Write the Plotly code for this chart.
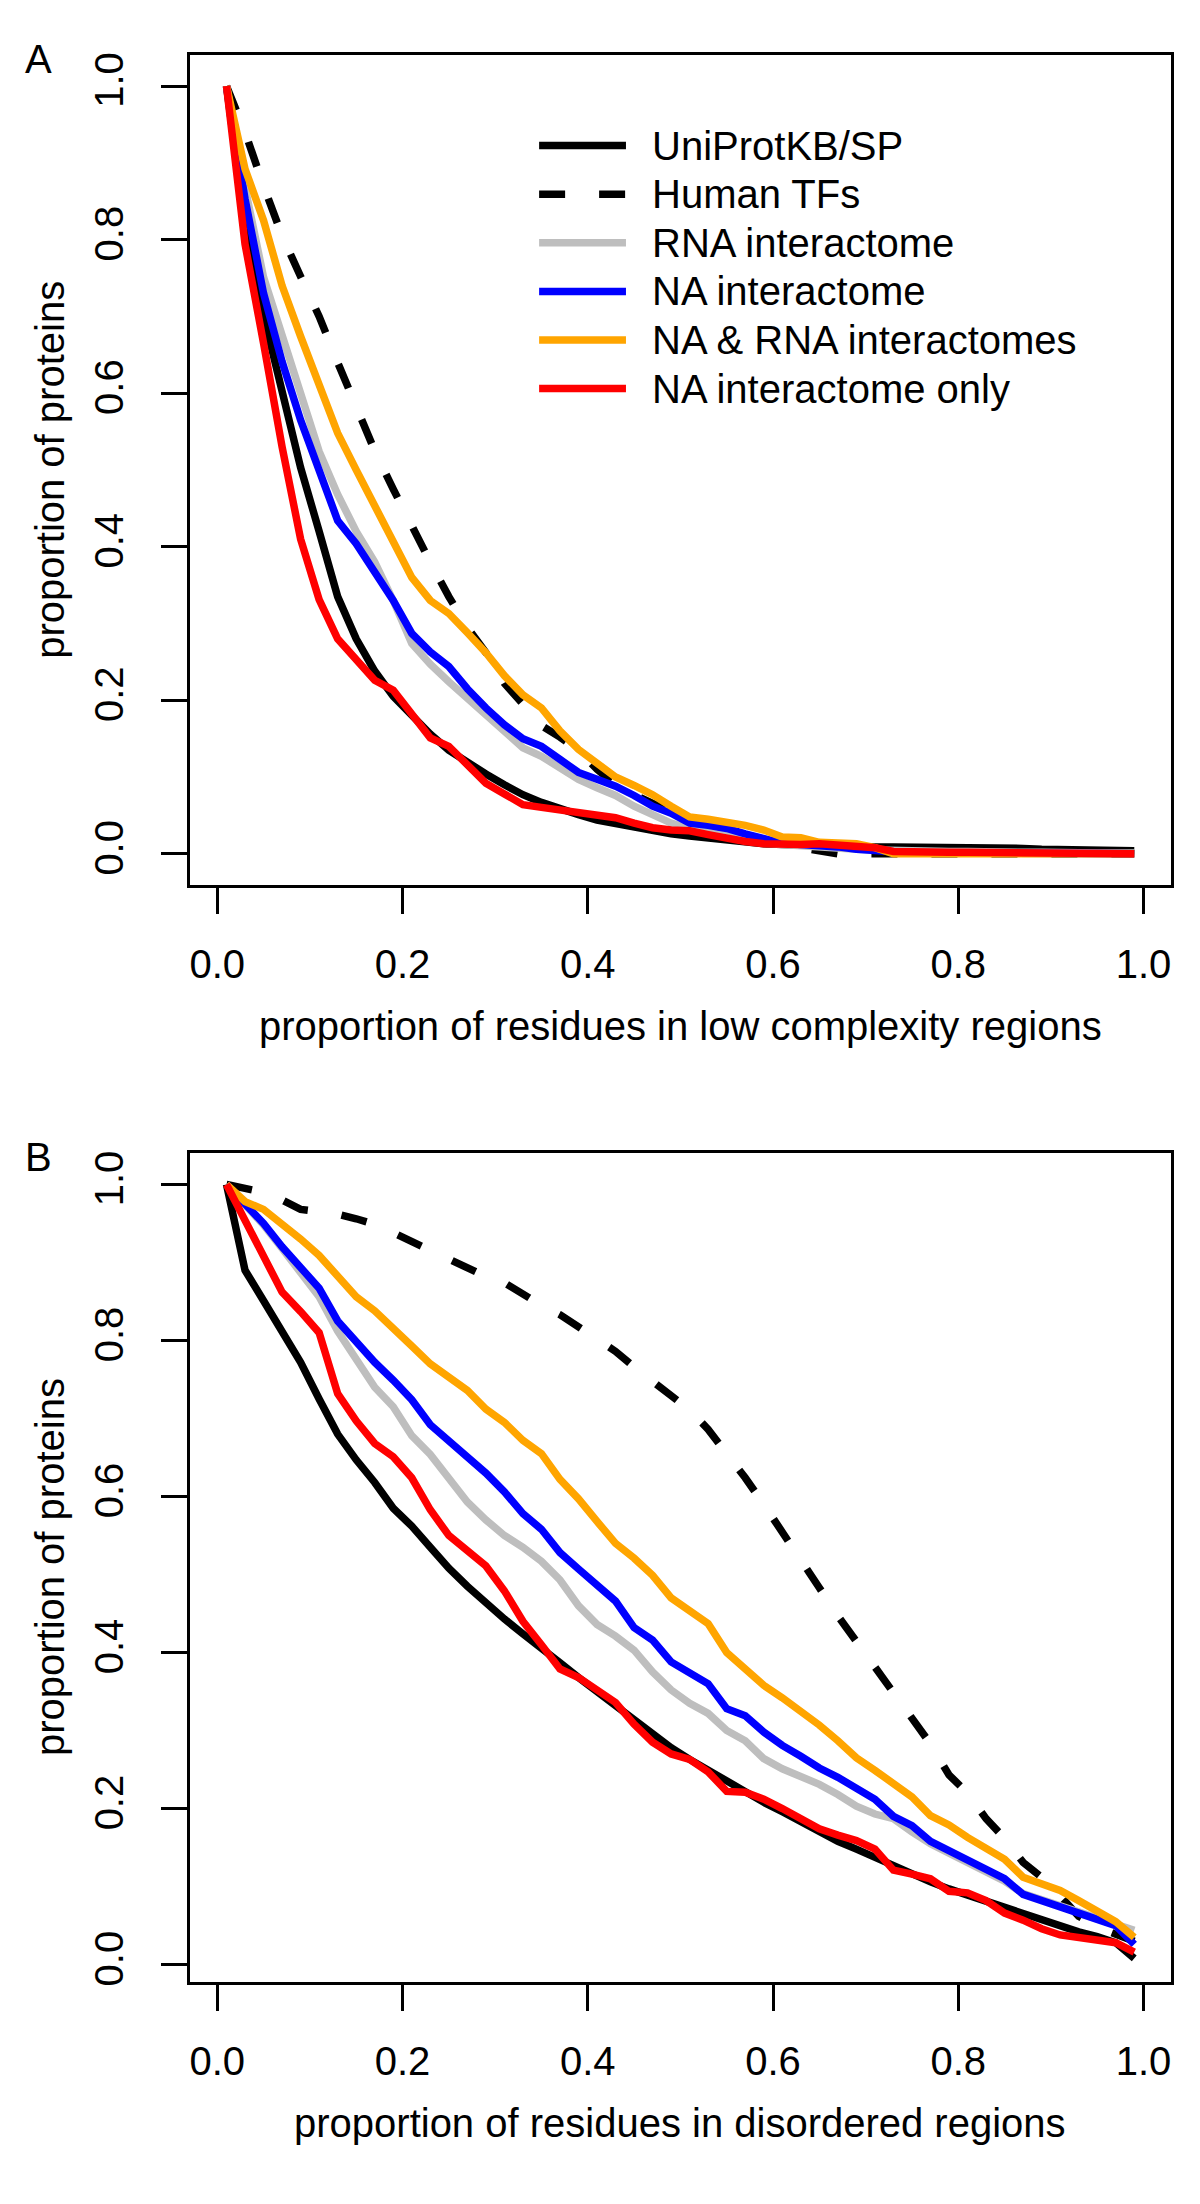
import plotly.graph_objects as go

# ---------------- data ----------------
x_bins = [0.01, 0.03, 0.05, 0.07, 0.09, 0.11, 0.13, 0.15, 0.17, 0.19,
          0.21, 0.23, 0.25, 0.27, 0.29, 0.31, 0.33, 0.35, 0.37, 0.39,
          0.41, 0.43, 0.45, 0.47, 0.49, 0.51, 0.53, 0.55, 0.57, 0.59,
          0.61, 0.63, 0.65, 0.67, 0.69, 0.71, 0.73, 0.75, 0.77, 0.79,
          0.81, 0.83, 0.85, 0.87, 0.89, 0.91, 0.93, 0.95, 0.97, 0.99]

series_names = ["UniProtKB/SP", "Human TFs", "RNA interactome",
                "NA interactome", "NA & RNA interactomes", "NA interactome only"]
series_colors = ["#000000", "#000000", "#BEBEBE", "#0000FF", "#FFA500", "#FF0000"]
series_dash = ["solid", "26px,34px", "solid", "solid", "solid", "solid"]

# Panel A: low complexity regions
lc_uniprot = [1.0, 0.82, 0.702, 0.604, 0.503, 0.42, 0.335, 0.28, 0.238, 0.205,
              0.18, 0.156, 0.135, 0.119, 0.104, 0.09, 0.077, 0.067, 0.058, 0.051,
              0.044, 0.039, 0.034, 0.030, 0.026, 0.023, 0.020, 0.017, 0.015, 0.013,
              0.012, 0.011, 0.011, 0.010, 0.010, 0.009, 0.009, 0.009, 0.008, 0.008,
              0.008, 0.007, 0.007, 0.007, 0.006, 0.006, 0.006, 0.005, 0.005, 0.004]
lc_tfs = [1.0, 0.94, 0.87, 0.805, 0.752, 0.70, 0.64, 0.58, 0.525, 0.475,
          0.425, 0.38, 0.335, 0.295, 0.262, 0.222, 0.195, 0.167, 0.152, 0.135,
          0.11, 0.09, 0.077, 0.066, 0.055, 0.043, 0.037, 0.030, 0.024, 0.018,
          0.012, 0.008, 0.003, 0.0, 0.0, 0.0, 0.0, 0.0, 0.0, 0.0,
          0.0, 0.0, 0.0, 0.0, 0.0, 0.0, 0.0, 0.0, 0.0, 0.0]
lc_rna = [1.0, 0.868, 0.751, 0.676, 0.599, 0.524, 0.468, 0.42, 0.38, 0.33,
          0.274, 0.247, 0.224, 0.203, 0.182, 0.158, 0.138, 0.127, 0.112, 0.097,
          0.086, 0.076, 0.062, 0.050, 0.040, 0.033, 0.028, 0.024, 0.018, 0.014,
          0.012, 0.010, 0.008, 0.007, 0.006, 0.005, 0.004, 0.004, 0.003, 0.003,
          0.003, 0.002, 0.002, 0.002, 0.002, 0.001, 0.001, 0.001, 0.001, 0.001]
lc_na = [1.0, 0.853, 0.730, 0.641, 0.565, 0.50, 0.434, 0.404, 0.367, 0.33,
         0.287, 0.263, 0.244, 0.215, 0.19, 0.168, 0.150, 0.140, 0.123, 0.106,
         0.097, 0.088, 0.076, 0.062, 0.053, 0.040, 0.037, 0.033, 0.026, 0.021,
         0.014, 0.012, 0.011, 0.009, 0.006, 0.004, 0.002, 0.001, 0.001, 0.001,
         0.001, 0.001, 0.001, 0.0, 0.0, 0.0, 0.0, 0.0, 0.0, 0.0]
lc_both = [1.0, 0.892, 0.825, 0.74, 0.674, 0.612, 0.548, 0.50, 0.455, 0.41,
           0.36, 0.33, 0.313, 0.288, 0.262, 0.232, 0.207, 0.19, 0.16, 0.136,
           0.118, 0.10, 0.089, 0.077, 0.062, 0.048, 0.045, 0.042, 0.037, 0.031,
           0.022, 0.021, 0.015, 0.014, 0.013, 0.008, 0.0, 0.0, 0.0, 0.0,
           0.0, 0.0, 0.0, 0.0, 0.0, 0.0, 0.0, 0.0, 0.0, 0.0]
lc_only = [1.0, 0.794, 0.665, 0.53, 0.41, 0.331, 0.28, 0.254, 0.226, 0.213,
           0.1835, 0.151, 0.140, 0.116, 0.092, 0.078, 0.064, 0.0605, 0.057, 0.052,
           0.05, 0.047, 0.040, 0.034, 0.031, 0.030, 0.025, 0.020, 0.016, 0.013,
           0.012, 0.012, 0.013, 0.012, 0.010, 0.008, 0.003, 0.002, 0.002, 0.002,
           0.002, 0.002, 0.001, 0.001, 0.001, 0.0, 0.0, 0.0, 0.0, 0.0]

# Panel B: disordered regions
dis_uniprot = [1.0, 0.89, 0.851, 0.812, 0.772, 0.725, 0.68, 0.647, 0.618, 0.585,
               0.562, 0.535, 0.508, 0.485, 0.463, 0.443, 0.424, 0.404, 0.387, 0.368,
               0.350, 0.331, 0.314, 0.296, 0.278, 0.263, 0.249, 0.235, 0.222, 0.208,
               0.196, 0.183, 0.170, 0.158, 0.148, 0.137, 0.127, 0.116, 0.106, 0.097,
               0.089, 0.081, 0.072, 0.064, 0.057, 0.049, 0.042, 0.036, 0.028, 0.008]
dis_tfs = [1.0, 0.996, 0.99, 0.98, 0.968, 0.965, 0.962, 0.956, 0.949, 0.938,
           0.927, 0.915, 0.904, 0.893, 0.882, 0.874, 0.859, 0.845, 0.833, 0.818,
           0.801, 0.786, 0.766, 0.748, 0.731, 0.711, 0.686, 0.656, 0.624, 0.590,
           0.553, 0.52, 0.483, 0.447, 0.414, 0.383, 0.352, 0.318, 0.283, 0.243,
           0.220, 0.187, 0.162, 0.131, 0.112, 0.088, 0.062, 0.048, 0.04, 0.03]
dis_rna = [1.0, 0.974, 0.948, 0.918, 0.888, 0.856, 0.812, 0.776, 0.74, 0.715,
           0.678, 0.654, 0.624, 0.593, 0.57, 0.55, 0.535, 0.517, 0.493, 0.46,
           0.436, 0.421, 0.403, 0.375, 0.352, 0.335, 0.322, 0.300, 0.287, 0.264,
           0.251, 0.241, 0.231, 0.218, 0.203, 0.193, 0.187, 0.17, 0.155, 0.143,
           0.131, 0.12, 0.107, 0.091, 0.083, 0.074, 0.067, 0.059, 0.052, 0.044]
dis_na = [1.0, 0.975, 0.95, 0.92, 0.893, 0.867, 0.825, 0.797, 0.772, 0.749,
          0.724, 0.692, 0.672, 0.652, 0.63, 0.606, 0.578, 0.558, 0.528, 0.507,
          0.487, 0.466, 0.432, 0.416, 0.388, 0.375, 0.36, 0.328, 0.319, 0.298,
          0.281, 0.267, 0.252, 0.24, 0.225, 0.212, 0.19, 0.178, 0.158, 0.146,
          0.134, 0.122, 0.11, 0.09, 0.082, 0.074, 0.064, 0.057, 0.05, 0.026]
dis_both = [1.0, 0.978, 0.968, 0.95, 0.93, 0.909, 0.883, 0.856, 0.838, 0.817,
            0.793, 0.77, 0.754, 0.736, 0.712, 0.695, 0.672, 0.655, 0.622, 0.597,
            0.568, 0.54, 0.521, 0.499, 0.47, 0.452, 0.437, 0.40, 0.378, 0.358,
            0.342, 0.325, 0.307, 0.287, 0.265, 0.249, 0.232, 0.215, 0.191, 0.179,
            0.163, 0.148, 0.135, 0.112, 0.104, 0.095, 0.082, 0.068, 0.055, 0.035]
dis_only = [1.0, 0.955, 0.91, 0.862, 0.837, 0.81, 0.732, 0.697, 0.668, 0.651,
            0.624, 0.583, 0.55, 0.530, 0.511, 0.479, 0.440, 0.410, 0.379, 0.368,
            0.353, 0.336, 0.308, 0.285, 0.270, 0.263, 0.247, 0.222, 0.221, 0.212,
            0.200, 0.187, 0.174, 0.166, 0.159, 0.148, 0.121, 0.116, 0.110, 0.094,
            0.092, 0.082, 0.066, 0.057, 0.046, 0.038, 0.035, 0.032, 0.028, 0.016]

panel_a = [lc_uniprot, lc_tfs, lc_rna, lc_na, lc_both, lc_only]
panel_b = [dis_uniprot, dis_tfs, dis_rna, dis_na, dis_both, dis_only]

tick_vals = [0.0, 0.2, 0.4, 0.6, 0.8, 1.0]
tick_text = ["0.0", "0.2", "0.4", "0.6", "0.8", "1.0"]
panel_letters = ["A", "B"]
x_titles = ["proportion of residues in low complexity regions",
            "proportion of residues in disordered regions"]
y_title = "proportion of proteins"

# ---------------- figure ----------------
W, H = 1200, 2204
FONT = "Liberation Sans, Arial, Helvetica, sans-serif"
LW = 7.5

fig = go.Figure()
for axes, values in ((("x", "y"), panel_a), (("x2", "y2"), panel_b)):
    for name, col, dash, vals in zip(series_names, series_colors, series_dash, values):
        fig.add_trace(go.Scatter(
            x=x_bins, y=vals, mode="lines", name=name,
            line=dict(color=col, width=LW, dash=dash),
            xaxis=axes[0], yaxis=axes[1], showlegend=False,
            hoverinfo="skip"))

# geometry (pixels)
left, right = 181.5, 1163.5
a_top, a_bot = 44.5, 876.7
b_top, b_bot = 1146.0, 1977.7
xdom = [left / W, right / W]
ydom_a = [1 - a_bot / H, 1 - a_top / H]
ydom_b = [1 - b_bot / H, 1 - b_top / H]

axis_common = dict(
    showline=True, mirror=True, linecolor="black", linewidth=3.3,
    ticks="outside", ticklen=26, tickwidth=3.3, tickcolor="black",
    showgrid=False, zeroline=False, tickvals=tick_vals, ticktext=tick_text,
    tickfont=dict(family=FONT, size=40, color="black"),
)

fig.update_layout(
    width=W, height=H, margin=dict(l=0, r=0, t=0, b=0),
    paper_bgcolor="white", plot_bgcolor="white", showlegend=False,
    xaxis=dict(domain=xdom, range=[-0.0292, 1.0292], anchor="y",
               ticklabelstandoff=16, **axis_common),
    yaxis=dict(domain=ydom_a, range=[-0.04, 1.04], anchor="x",
               tickangle=-90, ticklabelstandoff=22, **axis_common),
    xaxis2=dict(domain=xdom, range=[-0.0292, 1.0292], anchor="y2",
                ticklabelstandoff=16, **axis_common),
    yaxis2=dict(domain=ydom_b, range=[-0.0217, 1.0405], anchor="x2",
                tickangle=-90, ticklabelstandoff=22, **axis_common),
)

annotations = []
shapes = []
for letter, top, bot, xt in zip(panel_letters, (a_top, b_top), (a_bot, b_bot), x_titles):
    annotations.append(dict(text=letter, x=30 / W, y=1 - (top + 4) / H, xref="paper", yref="paper",
                            showarrow=False, xanchor="center", yanchor="middle",
                            font=dict(family=FONT, size=40, color="black")))
    annotations.append(dict(text=xt, x=(left + right) / 2 / W, y=1 - (bot + 142) / H,
                            xref="paper", yref="paper", showarrow=False,
                            xanchor="center", yanchor="middle",
                            font=dict(family=FONT, size=40, color="black")))
    annotations.append(dict(text=y_title, x=41 / W, y=1 - (top + bot) / 2 / H,
                            xref="paper", yref="paper", showarrow=False, textangle=-90,
                            xanchor="center", yanchor="middle",
                            font=dict(family=FONT, size=40, color="black")))

# legend (panel A)
leg_x0, leg_x1, leg_tx = 531.0, 618.0, 642.0
leg_y0, leg_dy = 135.0, 48.8
for i, (name, col, dash) in enumerate(zip(series_names, series_colors, series_dash)):
    yy = 1 - (leg_y0 + i * leg_dy) / H
    shapes.append(dict(type="line", xref="paper", yref="paper",
                       x0=leg_x0 / W, x1=leg_x1 / W, y0=yy, y1=yy,
                       line=dict(color=col, width=LW, dash=dash)))
    annotations.append(dict(text=name, x=leg_tx / W, y=yy, xref="paper", yref="paper",
                            showarrow=False, xanchor="left", yanchor="middle",
                            font=dict(family=FONT, size=40, color="black")))

fig.update_layout(annotations=annotations, shapes=shapes)
fig.write_html("out.html")
